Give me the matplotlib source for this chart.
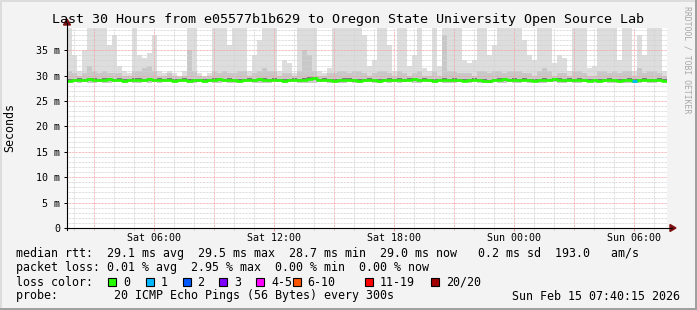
import numpy as np
import matplotlib
matplotlib.use("Agg")
from matplotlib import pyplot as plt
from matplotlib.lines import Line2D
from matplotlib.patches import Polygon, Rectangle

# ---- data (ms), one value per 15 minute bin, 30 hours ----
start_hour = 1 + 40 / 60 + 15 / 3600   # Sat 01:40:15, hours since Sat 00:00
bin_hours = 0.25

smoke_top = [
    40, 34, 31, 35, 40, 40, 40, 40, 36, 38, 32, 31, 30.5, 40, 34, 33.5, 34.5, 38, 31, 30.5,
    31, 30.5, 30, 31, 40, 40, 30.5, 30, 30.5, 40, 40, 40, 36, 40, 40, 40, 31, 34, 37, 40,
    40, 40, 31, 33, 32.5, 30.5, 40, 40, 40, 40, 31, 30.5, 31.5, 40, 40, 40, 40, 40, 40, 38,
    32, 33, 40, 40, 36, 31, 40, 40, 32, 34, 40, 31.5, 31, 40, 32, 40, 40, 40, 40, 33,
    32.5, 33, 40, 40, 34, 36, 40, 40, 40, 40, 40, 37, 34, 33, 40, 40, 40, 32.5, 34, 33.5,
    31, 40, 40, 40, 31.5, 32, 40, 40, 40, 40, 33, 40, 40, 31, 38, 34, 40, 40, 40, 31,
]
smoke_mid = [
    31, 30.5, 30, 30.5, 32, 31, 30.5, 31, 30.5, 30.5, 30.5, 30, 30, 31, 31, 31.5, 32, 31, 30, 30,
    30.5, 30, 29.8, 30, 35, 31, 30, 29.8, 30, 31, 30.5, 31, 30.5, 30.5, 31, 31, 30, 30.5, 31, 31.5,
    31, 31, 30, 30.5, 30.5, 30, 31, 35, 34, 31, 30, 30, 30.5, 30.5, 31, 31, 30.5, 31, 31, 30.5,
    30, 30.5, 31, 31, 30.5, 30, 31, 30.5, 30, 30.5, 31, 30, 30, 31, 30, 38, 31, 31, 30.5, 30.5,
    30.5, 30, 31, 31, 30.5, 31, 31, 30.5, 31, 31, 31, 30.5, 30.5, 30, 31, 31.5, 31, 30, 30.5, 30.5,
    30, 31, 31, 30.5, 30, 30, 31, 31, 30.5, 31, 30.5, 31, 31, 30, 31.5, 30.5, 31, 31, 30.5, 30,
]
smoke_low = [
    28.6, 28.7, 28.6, 28.7, 28.5, 28.6, 28.7, 28.6, 28.6, 28.7, 28.7, 28.6, 28.7, 28.5, 28.6, 28.7, 28.6, 28.7, 28.6, 28.7,
    28.7, 28.6, 28.7, 28.7, 28.5, 28.6, 28.7, 28.6, 28.7, 28.6, 28.6, 28.7, 28.6, 28.5, 28.6, 28.7, 28.7, 28.6, 28.6, 28.6,
    28.6, 28.7, 28.7, 28.6, 28.7, 28.7, 28.6, 28.5, 28.6, 28.6, 28.7, 28.7, 28.6, 28.6, 28.5, 28.6, 28.7, 28.6, 28.6, 28.7,
    28.7, 28.6, 28.6, 28.7, 28.6, 28.7, 28.6, 28.7, 28.7, 28.6, 28.6, 28.7, 28.7, 28.6, 28.7, 28.5, 28.6, 28.6, 28.7, 28.7,
    28.6, 28.7, 28.6, 28.6, 28.5, 28.7, 28.6, 28.6, 28.7, 28.6, 28.6, 28.7, 28.6, 28.7, 28.6, 28.6, 28.7, 28.7, 28.6, 28.6,
    28.7, 28.6, 28.6, 28.7, 28.7, 28.6, 28.6, 28.7, 28.6, 28.6, 28.7, 28.6, 28.6, 28.7, 28.6, 28.7, 28.6, 28.6, 28.7, 28.7,
]
median = [
    29.0, 29.1, 29.2, 29.1, 29.3, 29.2, 29.1, 29.2, 29.3, 29.1, 29.2, 29.0, 29.1, 29.2, 29.2, 29.1, 29.3, 29.1, 29.2, 29.1,
    29.2, 29.0, 29.1, 29.2, 29.0, 29.1, 29.1, 29.0, 29.1, 29.2, 29.3, 29.1, 29.2, 29.1, 29.0, 29.1, 29.2, 29.1, 29.3, 29.2,
    29.1, 29.2, 29.1, 29.0, 29.1, 29.2, 29.1, 29.2, 29.4, 29.5, 29.1, 29.2, 29.1, 29.0, 29.1, 29.2, 29.2, 29.1, 29.0, 29.1,
    29.2, 29.1, 29.0, 29.1, 29.2, 29.1, 29.2, 29.1, 29.2, 29.3, 29.1, 29.2, 29.1, 29.0, 29.1, 29.2, 29.1, 29.2, 29.1, 29.0,
    29.1, 29.2, 29.1, 29.0, 28.9, 29.1, 29.2, 29.3, 29.1, 29.2, 29.1, 29.2, 29.1, 29.0, 29.1, 29.2, 29.1, 29.3, 29.2, 29.1,
    29.2, 29.1, 29.2, 29.1, 29.0, 29.1, 29.0, 29.1, 29.2, 29.1, 29.0, 29.1, 29.2, 29.0, 29.1, 29.2, 29.1, 29.1, 29.2, 29.0,
]
loss = [
    0, 0, 0, 0, 0, 0, 0, 0, 0, 0, 0, 0, 0, 0, 0, 0, 0, 0, 0, 0,
    0, 0, 0, 0, 0, 0, 0, 0, 0, 0, 0, 0, 0, 0, 0, 0, 0, 0, 0, 0,
    0, 0, 0, 0, 0, 0, 0, 0, 0, 0, 0, 0, 0, 0, 0, 0, 0, 0, 0, 0,
    0, 0, 0, 0, 0, 0, 0, 0, 0, 0, 0, 0, 0, 0, 0, 0, 0, 0, 0, 0,
    0, 0, 0, 0, 0, 0, 0, 0, 0, 0, 0, 0, 0, 0, 0, 0, 0, 0, 0, 0,
    0, 0, 0, 0, 0, 0, 0, 0, 0, 0, 0, 0, 0, 1, 0, 0, 0, 0, 0, 0,
]

loss_labels = ["0", "1", "2", "3", "4-5", "6-10", "11-19", "20/20"]
loss_colors = ["#26ff00", "#00b8ff", "#0059ff", "#7e00ff", "#ff00ff", "#ff5500", "#ff0000", "#a10000"]

y_ticks = [0, 5, 10, 15, 20, 25, 30, 35]
y_labels = ["0", "5 m", "10 m", "15 m", "20 m", "25 m", "30 m", "35 m"]
x_ticks = [6, 12, 18, 24, 30]
x_labels = ["Sat 06:00", "Sat 12:00", "Sat 18:00", "Sun 00:00", "Sun 06:00"]

legend_lines = [
    "median rtt:  29.1 ms avg  29.5 ms max  28.7 ms min  29.0 ms now   0.2 ms sd  193.0   am/s",
    "packet loss: 0.01 % avg  2.95 % max  0.00 % min  0.00 % now",
]

# ---- layout in pixels ----
W, H = 697, 310
X0, X1, Y0, Y1 = 67, 667, 28, 228
MONO = "DejaVu Sans Mono"
BG = "#f3f3f3"


def fx(px):
    return px / W


def fy(py):
    return 1 - py / H


fig = plt.figure(figsize=(W / 100, H / 100), dpi=100, facecolor=BG)
ax = fig.add_axes([fx(X0), fy(Y1), (X1 - X0) / W, (Y1 - Y0) / H])
ax.set_facecolor("white")

times = start_hour + bin_hours * np.arange(len(median))
end_hour = start_hour + bin_hours * len(median)
ax.set_xlim(start_hour, end_hour)
ax.set_ylim(0, 39.4)

# smoke
top = np.array(smoke_top)
mid = np.array(smoke_mid)
low = np.array(smoke_low)
med = np.array(median)
ax.bar(times, top - low, bottom=low, width=bin_hours, align="edge",
       color="#dddddd", linewidth=0, zorder=1)
ax.bar(times, mid - low, bottom=low, width=bin_hours, align="edge",
       color="#c8c8c8", linewidth=0, zorder=1.1)
ax.bar(times, 0.6, bottom=med - 0.3, width=bin_hours, align="edge",
       color="#7a7a7a", linewidth=0, zorder=1.2)

# grid, drawn above the smoke
dots = (0, (0.72, 0.72))
for h in range(2, 32):
    major = h % 3 == 0
    ax.axvline(h, color="#f2a0a0" if major else "#d2d2d2", lw=0.72,
               linestyle=dots, zorder=1.5)
for v in range(1, 40):
    major = v % 5 == 0
    ax.axhline(v, color="#f2a0a0" if major else "#d2d2d2", lw=0.72,
               linestyle=dots, zorder=1.5)

# median line coloured by loss
edges = np.append(times, end_hour)
ax.step(edges, np.append(med, med[-1]), where="post", color=loss_colors[0],
        lw=1.9, zorder=3)
for i, lv in enumerate(loss):
    if lv > 0:
        ax.hlines(med[i], times[i], times[i] + bin_hours, color=loss_colors[lv],
                  lw=2.0, zorder=3.1)

# axes, ticks
for s in ["top", "right", "left", "bottom"]:
    ax.spines[s].set_visible(False)
ax.set_yticks(y_ticks, y_labels, fontfamily=MONO, fontsize=7.2)
ax.set_xticks(x_ticks, x_labels, fontfamily=MONO, fontsize=7.2)
ax.set_xticks(range(2, 32), minor=True)
ax.tick_params(axis="y", length=2.5, width=0.72, pad=2.5, color="black")
ax.tick_params(axis="x", length=2, width=0.72, pad=1.6, color="#f09090",
               direction="out")
ax.tick_params(axis="x", which="minor", length=1.5, width=0.72, color="#c8c8c8")

# axis lines with arrows
fig.add_artist(Line2D([fx(X0), fx(X0)], [fy(Y1 + 2), fy(Y0 - 5)], color="black", lw=0.8))
fig.add_artist(Line2D([fx(X0 - 2), fx(X1 + 5)], [fy(Y1), fy(Y1)], color="black", lw=0.8))
fig.add_artist(Polygon([[fx(X0 - 3.5), fy(Y0 - 3)], [fx(X0 + 3.5), fy(Y0 - 3)], [fx(X0), fy(Y0 - 9)]],
                       closed=True, color="#7f1010"))
fig.add_artist(Polygon([[fx(X1 + 3), fy(Y1 - 3.5)], [fx(X1 + 3), fy(Y1 + 3.5)], [fx(X1 + 9), fy(Y1)]],
                       closed=True, color="#7f1010"))

# texts
fig.text(fx(348), fy(19), "Last 30 Hours from e05577b1b629 to Oregon State University Open Source Lab",
         ha="center", va="center", fontfamily=MONO, fontsize=9.6)
fig.text(fx(10), fy(128), "Seconds", rotation=90, ha="center", va="center",
         fontfamily=MONO, fontsize=8.4)
fig.text(fx(687), fy(6), "RRDTOOL / TOBI OETIKER", rotation=-90, ha="center", va="top",
         fontfamily=MONO, fontsize=5.9, color="#a8a8a8")

for k, line in enumerate(legend_lines):
    fig.text(fx(16), fy(254 + 14 * k), line, ha="left", va="center",
             fontfamily=MONO, fontsize=8.4)

fig.text(fx(16), fy(282), "loss color:", ha="left", va="center", fontfamily=MONO, fontsize=8.4)
box_x = [108, 145.5, 182.5, 219, 256, 292.5, 365, 431]
for bx, lab, col in zip(box_x, loss_labels, loss_colors):
    fig.add_artist(Rectangle((fx(bx), fy(286)), 8 / W, 8 / H, facecolor=col,
                             edgecolor="black", lw=0.8))
    fig.text(fx(bx + 15), fy(282), lab, ha="left", va="center", fontfamily=MONO, fontsize=8.4)

fig.text(fx(16), fy(296), "probe:        20 ICMP Echo Pings (56 Bytes) every 300s",
         ha="left", va="center", fontfamily=MONO, fontsize=8.4)
fig.text(fx(680), fy(296), "Sun Feb 15 07:40:15 2026", ha="right", va="center",
         fontfamily=MONO, fontsize=8.4)

# image frame: light top/left, dark bottom/right
fig.add_artist(Rectangle((0, 0), 2 / W, 1, color="#dcdcdc", lw=0))
fig.add_artist(Rectangle((0, 1 - 2 / H), 1, 2 / H, color="#dcdcdc", lw=0))
fig.add_artist(Rectangle((1 - 2 / W, 0), 2 / W, 1, color="#a0a0a0", lw=0))
fig.add_artist(Rectangle((0, 0), 1, 2 / H, color="#a0a0a0", lw=0))

fig.savefig("out.png", dpi=100, facecolor=BG)
